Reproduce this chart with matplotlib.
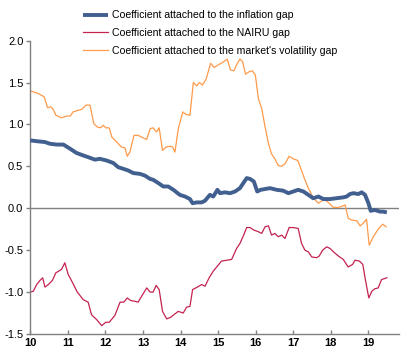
import matplotlib
matplotlib.use("Agg")
import matplotlib.pyplot as plt

plt.rcParams['font.family'] = ['Liberation Sans', 'DejaVu Sans']

# Inflation gap coefficient (blue, thick)
infl_x = [10.00, 10.17, 10.39, 10.52, 10.70, 10.88, 11.06, 11.23, 11.41, 11.54, 11.72, 11.85,
          12.03, 12.21, 12.34, 12.48, 12.61, 12.74, 12.92, 13.05, 13.19, 13.27, 13.41, 13.54,
          13.67, 13.81, 13.98, 14.12, 14.25, 14.32, 14.43, 14.56, 14.65, 14.78, 14.87, 14.98,
          15.05, 15.18, 15.32, 15.45, 15.58, 15.67, 15.76, 15.85, 15.95, 16.04, 16.13, 16.25,
          16.38, 16.56, 16.73, 16.87, 17.00, 17.13, 17.27, 17.40, 17.53, 17.67, 17.80, 17.98,
          18.15, 18.33, 18.42, 18.51, 18.60, 18.73, 18.82, 18.91, 19.00, 19.06, 19.17, 19.31,
          19.40, 19.49]
infl_y = [0.81, 0.80, 0.79, 0.77, 0.76, 0.76, 0.71, 0.66, 0.63, 0.61, 0.58, 0.59,
          0.57, 0.54, 0.49, 0.47, 0.45, 0.42, 0.41, 0.39, 0.35, 0.34, 0.30, 0.26,
          0.26, 0.22, 0.16, 0.14, 0.11, 0.06, 0.07, 0.07, 0.09, 0.16, 0.14, 0.22,
          0.18, 0.19, 0.18, 0.20, 0.24, 0.30, 0.36, 0.35, 0.32, 0.20, 0.22, 0.23,
          0.24, 0.22, 0.21, 0.18, 0.20, 0.22, 0.20, 0.16, 0.12, 0.14, 0.11, 0.11,
          0.12, 0.13, 0.14, 0.17, 0.18, 0.17, 0.19, 0.16, 0.06, -0.03, -0.02, -0.04,
          -0.04, -0.05]

# NAIRU gap coefficient (red)
nairu_x = [10.00, 10.08, 10.17, 10.26, 10.33, 10.39, 10.48, 10.59, 10.68, 10.83, 10.92, 11.01,
           11.14, 11.25, 11.41, 11.54, 11.63, 11.77, 11.90, 12.01, 12.10, 12.25, 12.39, 12.49,
           12.58, 12.67, 12.79, 12.87, 12.99, 13.10, 13.19, 13.27, 13.35, 13.43, 13.52, 13.63,
           13.74, 13.82, 13.94, 14.07, 14.16, 14.25, 14.32, 14.45, 14.56, 14.65, 14.76, 14.87,
           14.98, 15.09, 15.23, 15.36, 15.49, 15.58, 15.67, 15.76, 15.85, 15.95, 16.07, 16.16,
           16.25, 16.34, 16.42, 16.51, 16.60, 16.69, 16.78, 16.89, 17.00, 17.13, 17.22, 17.31,
           17.40, 17.49, 17.62, 17.69, 17.78, 17.89, 17.98, 18.07, 18.20, 18.33, 18.46, 18.58,
           18.64, 18.76, 18.85, 18.91, 19.01, 19.09, 19.17, 19.26, 19.35, 19.49]
nairu_y = [-1.00, -0.99, -0.91, -0.86, -0.83, -0.94, -0.91, -0.86, -0.77, -0.73, -0.65, -0.79,
           -0.90, -1.00, -1.09, -1.12, -1.27, -1.33, -1.40, -1.36, -1.36, -1.28, -1.12, -1.12,
           -1.07, -1.10, -1.11, -1.12, -1.03, -0.95, -1.00, -1.00, -0.92, -0.97, -1.23, -1.32,
           -1.30, -1.27, -1.23, -1.25, -1.18, -1.17, -0.97, -0.94, -0.91, -0.93, -0.83, -0.75,
           -0.69, -0.63, -0.62, -0.61, -0.48, -0.42, -0.33, -0.23, -0.23, -0.26, -0.28, -0.30,
           -0.22, -0.21, -0.32, -0.30, -0.34, -0.32, -0.36, -0.23, -0.23, -0.24, -0.42, -0.50,
           -0.52, -0.58, -0.59, -0.57, -0.50, -0.46, -0.48, -0.52, -0.57, -0.61, -0.70, -0.67,
           -0.62, -0.63, -0.67, -0.83, -1.07, -0.99, -0.96, -0.95, -0.85, -0.83]

# Market volatility gap coefficient (orange)
vol_x = [10.00, 10.08, 10.21, 10.37, 10.46, 10.54, 10.61, 10.68, 10.83, 10.97, 11.06, 11.14,
         11.28, 11.37, 11.48, 11.59, 11.69, 11.78, 11.87, 11.94, 12.01, 12.10, 12.17, 12.30,
         12.43, 12.52, 12.58, 12.65, 12.76, 12.87, 12.96, 13.10, 13.19, 13.27, 13.36, 13.43,
         13.52, 13.61, 13.72, 13.79, 13.85, 13.94, 14.06, 14.14, 14.25, 14.34, 14.43, 14.50,
         14.58, 14.68, 14.80, 14.89, 15.00, 15.12, 15.24, 15.33, 15.42, 15.49, 15.58, 15.65,
         15.73, 15.83, 15.91, 15.99, 16.07, 16.16, 16.25, 16.34, 16.42, 16.51, 16.60, 16.69,
         16.78, 16.89, 17.00, 17.12, 17.22, 17.31, 17.40, 17.49, 17.58, 17.67, 17.76, 17.84,
         17.93, 18.07, 18.20, 18.33, 18.38, 18.46, 18.55, 18.69, 18.78, 18.86, 18.95, 19.02,
         19.13, 19.26, 19.38, 19.47]
vol_y = [1.40, 1.39, 1.37, 1.33, 1.20, 1.21, 1.18, 1.11, 1.08, 1.10, 1.10, 1.15,
         1.17, 1.18, 1.23, 1.23, 1.01, 0.97, 0.96, 0.99, 0.96, 0.96, 0.85, 0.79,
         0.73, 0.72, 0.62, 0.67, 0.87, 0.87, 0.85, 0.82, 0.95, 0.96, 0.91, 0.96,
         0.69, 0.73, 0.74, 0.73, 0.67, 0.95, 1.15, 1.12, 1.11, 1.50, 1.46, 1.50,
         1.47, 1.54, 1.73, 1.68, 1.71, 1.74, 1.78, 1.65, 1.64, 1.71, 1.78, 1.75,
         1.60, 1.63, 1.64, 1.59, 1.31, 1.19, 0.97, 0.77, 0.65, 0.59, 0.51, 0.50,
         0.53, 0.62, 0.59, 0.57, 0.45, 0.34, 0.24, 0.16, 0.10, 0.06, 0.09, 0.10,
         0.07, 0.01, 0.01, 0.03, 0.04, -0.12, -0.14, -0.15, -0.21, -0.18, -0.13, -0.44,
         -0.34, -0.25, -0.19, -0.22]

labels = ["Coefficient attached to the inflation gap",
          "Coefficient attached to the NAIRU gap",
          "Coefficient attached to the market's volatility gap"]
x_ticks = [10, 11, 12, 13, 14, 15, 16, 17, 18, 19]
y_ticks = [-1.5, -1.0, -0.5, 0.0, 0.5, 1.0, 1.5, 2.0]

BLUE = "#41608F"
RED = "#C4234F"
ORANGE = "#FF9A4A"
GRAY = "#808080"

fig = plt.figure(figsize=(4.16, 3.64), dpi=100)
ax = fig.add_axes([0.0728, 0.0824, 0.886, 0.806])

ax.axhline(0, color=GRAY, lw=1.0, zorder=1)
h1, = ax.plot(infl_x, infl_y, color=BLUE, lw=2.8, zorder=3, solid_capstyle='butt')
h2, = ax.plot(nairu_x, nairu_y, color=RED, lw=0.9, zorder=2)
h3, = ax.plot(vol_x, vol_y, color=ORANGE, lw=0.9, zorder=2)

ax.set_xlim(10, 19.81)
ax.set_ylim(-1.5, 2.0)
ax.set_xticks(x_ticks)
ax.set_xticklabels([str(t) for t in x_ticks], fontweight='bold', fontsize=8)
ax.set_yticks(y_ticks)
ax.set_yticklabels([f"{t:.1f}" for t in y_ticks], fontsize=8)

for s in ['top', 'right']:
    ax.spines[s].set_visible(False)
for s in ['left', 'bottom']:
    ax.spines[s].set_color(GRAY)
    ax.spines[s].set_linewidth(1.0)
ax.tick_params(axis='y', direction='out', length=3, color=GRAY, width=1, pad=2)
ax.tick_params(axis='x', direction='in', length=3, color=GRAY, width=1, pad=3)

fig.legend([h1, h2, h3], labels, loc='upper left', bbox_to_anchor=(0.189, 0.983),
           frameon=False, fontsize=7.6, handlelength=2.36, handletextpad=0.38,
           labelspacing=0.72, borderaxespad=0)

fig.savefig("out.png", dpi=100)
